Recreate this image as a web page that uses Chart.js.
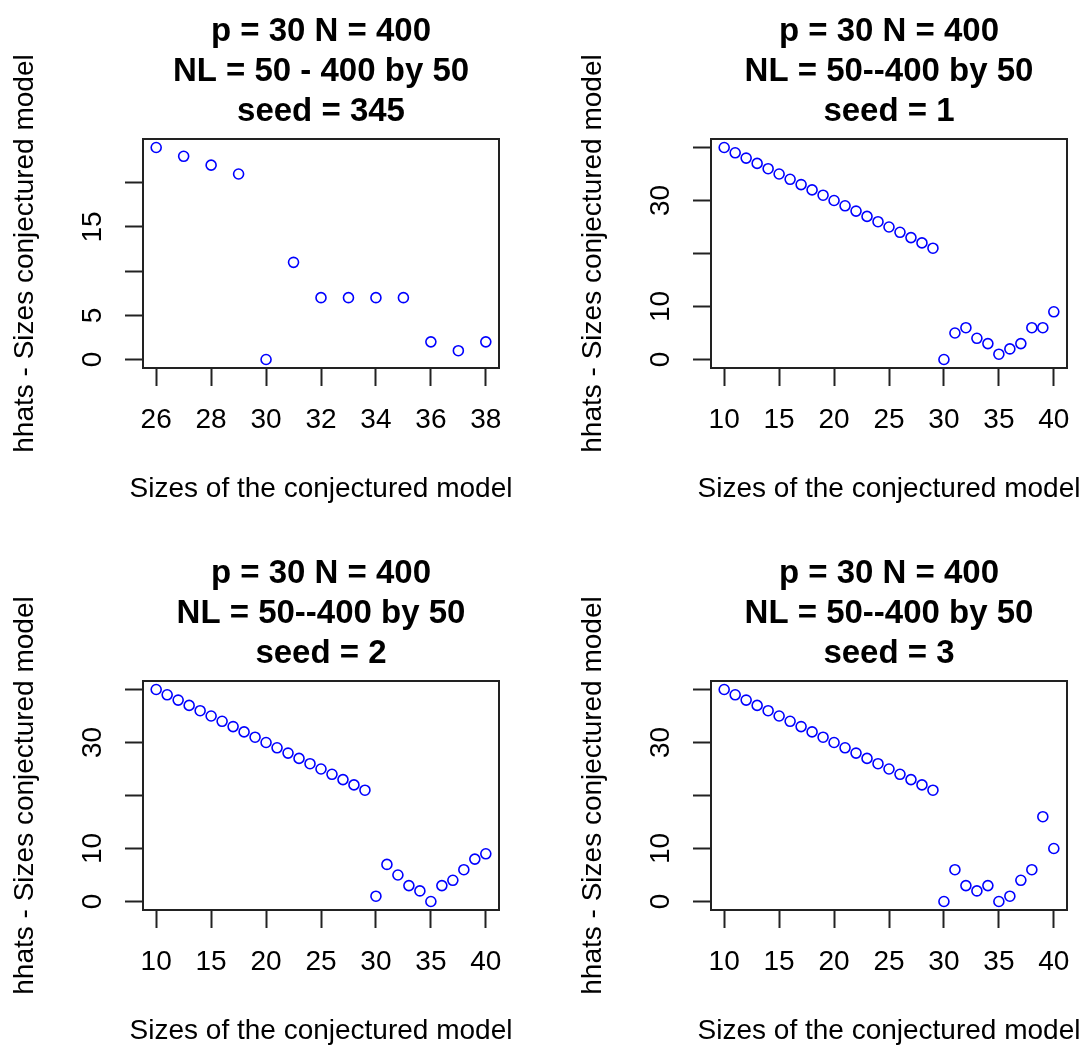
<!DOCTYPE html>
<html>
<head>
<meta charset="utf-8">
<script src="https://cdn.jsdelivr.net/npm/chart.js@4.4.1/dist/chart.umd.min.js"></script>
<style>
  html, body { margin: 0; padding: 0; background: #fff; width: 1080px; height: 1046px; overflow: hidden; }
  canvas { position: absolute; }
</style>
</head>
<body>
<canvas id="p1" width="568" height="542" style="left:0;top:0"></canvas>
<canvas id="p2" width="568" height="542" style="left:568px;top:0"></canvas>
<canvas id="p3" width="568" height="542" style="left:0;top:542px"></canvas>
<canvas id="p4" width="568" height="542" style="left:568px;top:542px"></canvas>
<script>
// model sizes on the x axis
const sizesSeed345 = [26, 27, 28, 29, 30, 31, 32, 33, 34, 35, 36, 37, 38];
const sizesWide = [10, 11, 12, 13, 14, 15, 16, 17, 18, 19, 20, 21, 22, 23, 24, 25,
  26, 27, 28, 29, 30, 31, 32, 33, 34, 35, 36, 37, 38, 39, 40];

// hhats - size, one array per seed
const hhatSeed345 = [24, 23, 22, 21, 0, 11, 7, 7, 7, 7, 2, 1, 2];
const hhatSeed1 = [40, 39, 38, 37, 36, 35, 34, 33, 32, 31, 30, 29, 28, 27, 26, 25,
  24, 23, 22, 21, 0, 5, 6, 4, 3, 1, 2, 3, 6, 6, 9];
const hhatSeed2 = [40, 39, 38, 37, 36, 35, 34, 33, 32, 31, 30, 29, 28, 27, 26, 25,
  24, 23, 22, 21, 1, 7, 5, 3, 2, 0, 3, 4, 6, 8, 9];
const hhatSeed3 = [40, 39, 38, 37, 36, 35, 34, 33, 32, 31, 30, 29, 28, 27, 26, 25,
  24, 23, 22, 21, 0, 6, 3, 2, 3, 0, 1, 4, 6, 16, 10];

// titles
const titleSeed345 = ['p = 30 N = 400', 'NL = 50 - 400 by 50', 'seed = 345'];
const titleSeed1 = ['p = 30 N = 400', 'NL = 50--400 by 50', 'seed = 1'];
const titleSeed2 = ['p = 30 N = 400', 'NL = 50--400 by 50', 'seed = 2'];
const titleSeed3 = ['p = 30 N = 400', 'NL = 50--400 by 50', 'seed = 3'];
const xTitle = 'Sizes of the conjectured model';
const yTitle = 'hhats - Sizes conjectured model';

// y tick labels that get printed (the other ticks stay unlabelled)
const yLabelsSeed345 = [0, 5, 15];
const yLabelsWide = [0, 10, 30];

const FONT = '"Liberation Sans", Arial, sans-serif';
const INK = '#222';
Chart.defaults.font.family = FONT;
Chart.defaults.color = '#000';

// R style limits: data range stretched by 4% on each side
function rLimits(vals) {
  const lo = Math.min(...vals), hi = Math.max(...vals);
  const d = (hi - lo) * 0.04;
  return [lo - d, hi + d];
}

// frame round the plot region and the x axis title
const framePlugin = {
  id: 'frame',
  afterDraw(chart) {
    const { ctx, chartArea: a } = chart;
    ctx.save();
    ctx.strokeStyle = INK;
    ctx.lineWidth = 2;
    ctx.strokeRect(a.left, a.top, a.width, a.height);
    ctx.font = '28px ' + FONT;
    ctx.fillStyle = '#000';
    ctx.textAlign = 'center';
    ctx.textBaseline = 'middle';
    ctx.fillText(xTitle, (a.left + a.right) / 2, 489);
    ctx.restore();
  }
};

function panel(id, xs, ys, title, xStep, yStep, yShown) {
  const [xMin, xMax] = rLimits(xs);
  const [yMin, yMax] = rLimits(ys);
  const tickGrid = {
    drawOnChartArea: false,
    drawTicks: true,
    tickLength: 18,
    tickWidth: 2,
    tickColor: INK
  };
  new Chart(document.getElementById(id), {
    type: 'scatter',
    data: {
      datasets: [{
        data: xs.map((x, i) => ({ x: x, y: ys[i] })),
        pointStyle: 'circle',
        pointRadius: 5,
        borderWidth: 1.6,
        borderColor: '#0000ff',
        backgroundColor: 'rgba(0,0,0,0)'
      }]
    },
    options: {
      responsive: false,
      animation: false,
      events: [],
      layout: { padding: { top: 0, left: 0, right: 69, bottom: 0 } },
      plugins: {
        legend: { display: false },
        tooltip: { enabled: false },
        title: {
          display: true,
          fullSize: false,
          text: title,
          color: '#000',
          font: { size: 33, weight: 'bold', lineHeight: 40 / 33 },
          padding: { top: 12, bottom: 7 }
        }
      },
      scales: {
        x: {
          type: 'linear',
          position: 'bottom',
          min: xMin,
          max: xMax,
          grid: tickGrid,
          border: { display: false },
          ticks: {
            stepSize: xStep,
            includeBounds: false,
            autoSkip: false,
            maxRotation: 0,
            padding: 17,
            font: { size: 28 },
            color: '#000'
          },
          afterFit(scale) { scale.height = 174; }
        },
        y: {
          type: 'linear',
          position: 'left',
          min: yMin,
          max: yMax,
          grid: tickGrid,
          border: { display: false },
          ticks: {
            stepSize: yStep,
            includeBounds: false,
            autoSkip: false,
            minRotation: 90,
            maxRotation: 90,
            crossAlign: 'center',
            padding: 16,
            font: { size: 28 },
            color: '#000',
            callback: (v) => (yShown.includes(v) ? String(v) : '')
          },
          title: {
            display: true,
            text: yTitle,
            color: '#000',
            font: { size: 28 },
            padding: { top: 8, bottom: 0 }
          },
          afterFit(scale) { scale.width = 143; }
        }
      }
    },
    plugins: [framePlugin]
  });
}

panel('p1', sizesSeed345, hhatSeed345, titleSeed345, 2, 5, yLabelsSeed345);
panel('p2', sizesWide, hhatSeed1, titleSeed1, 5, 10, yLabelsWide);
panel('p3', sizesWide, hhatSeed2, titleSeed2, 5, 10, yLabelsWide);
panel('p4', sizesWide, hhatSeed3, titleSeed3, 5, 10, yLabelsWide);
</script>
</body>
</html>
